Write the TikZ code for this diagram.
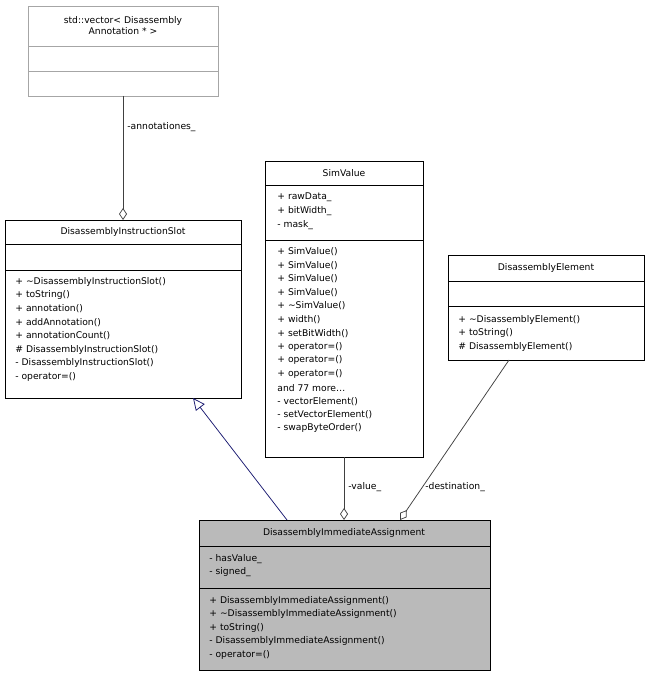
\documentclass[tikz,border=0pt]{standalone}
\usepackage{fontspec}
\setmainfont{DejaVu Sans}
\usetikzlibrary{arrows.meta}
\tikzset{every picture/.style={line width=0.75pt},
  txt/.style={anchor=west,inner sep=0pt,font=\fontsize{9.2}{11}\selectfont},
  ttl/.style={anchor=center,inner sep=0pt,font=\fontsize{9.2}{11}\selectfont,align=center},
  lbl/.style={anchor=west,inner sep=0pt,font=\fontsize{9.2}{11}\selectfont},
  agg/.style={draw=black!75,-{Diamond[open,length=12pt,width=8pt]}},
  inh/.style={draw={rgb,255:red,25;green,25;blue,112},{Triangle[open,length=12pt,width=11pt]}-}}

\begin{document}
\begin{tikzpicture}[x=1pt,y=1pt,yscale=-1,xscale=1]
	\useasboundingbox (0,0) rectangle (649,676);
	
	%Box: std::vector
	\draw [draw=black!35] (28,6) rectangle (218,96) (28,46) -- (218,46) (28,71) -- (218,71);
	\node (vecT) [ttl] at (123,26) {std::vector< Disassembly\\Annotation * >};
	\coordinate (vecB) at (123,96);
	
	%Box: DisassemblyInstructionSlot
	\draw (5,220) rectangle (241,398) (5,244) -- (241,244) (5,270) -- (241,270);
	\node (slotT) [ttl] at (123,232) {DisassemblyInstructionSlot};
	\foreach \t [count=\i] in {{+ \textasciitilde DisassemblyInstructionSlot()}, {+ toString()}, {+ annotation()}, {+ addAnnotation()}, {+ annotationCount()}, {\# DisassemblyInstructionSlot()}, {- DisassemblyInstructionSlot()}, {- operator=()}}
		\node [txt] at (15,268+13.6*\i) {\t};
	\coordinate (slotTop) at (123,220);
	\coordinate (slotB) at (193,398);
	
	%Box: SimValue
	\draw (265,161) rectangle (423,457) (265,185) -- (423,185) (265,240) -- (423,240);
	\node (simT) [ttl] at (344,173) {SimValue};
	\foreach \t [count=\i] in {{+ rawData\_}, {+ bitWidth\_}, {- mask\_}}
		\node [txt] at (277,184+13.6*\i) {\t};
	\foreach \t [count=\i] in {{+ SimValue()}, {+ SimValue()}, {+ SimValue()}, {+ SimValue()}, {+ \textasciitilde SimValue()}, {+ width()}, {+ setBitWidth()}, {+ operator=()}, {+ operator=()}, {+ operator=()}, {and 77 more\ldots}, {- vectorElement()}, {- setVectorElement()}, {- swapByteOrder()}}
		\node [txt] at (277,238+13.6*\i) {\t};
	\coordinate (simB) at (344,457);
	
	%Box: DisassemblyElement
	\draw (448,255) rectangle (644,360) (448,281) -- (644,281) (448,306) -- (644,306);
	\node (elT) [ttl] at (546,268) {DisassemblyElement};
	\foreach \t [count=\i] in {{+ \textasciitilde DisassemblyElement()}, {+ toString()}, {\# DisassemblyElement()}}
		\node [txt] at (458,306+13.6*\i) {\t};
	\coordinate (elB) at (509,360);
	
	%Box: DisassemblyImmediateAssignment
	\draw [fill=black!27] (199,520) rectangle (490,670) (199,546) -- (490,546) (199,588) -- (490,588);
	\node (imT) [ttl] at (344,533) {DisassemblyImmediateAssignment};
	\foreach \t [count=\i] in {{- hasValue\_}, {- signed\_}}
		\node [txt] at (209,545+13.6*\i) {\t};
	\foreach \t [count=\i] in {{+ DisassemblyImmediateAssignment()}, {+ \textasciitilde DisassemblyImmediateAssignment()}, {+ toString()}, {- DisassemblyImmediateAssignment()}, {- operator=()}}
		\node [txt] at (209,587+13.6*\i) {\t};
	\coordinate (imA) at (287,520);
	\coordinate (imV) at (344,520);
	\coordinate (imD) at (400,520);
	
	%Connectors
	\draw [agg] (vecB) -- (slotTop);
	\node (annL) [lbl] at (127,127) {-annotationes\_};
	\draw [inh] (slotB) -- (imA);
	\draw [agg] (simB) -- (imV);
	\node (valL) [lbl] at (348,487) {-value\_};
	\draw [agg] (elB) -- (imD);
	\node (dstL) [lbl] at (425,487) {-destination\_};
	
\end{tikzpicture}
\end{document}
